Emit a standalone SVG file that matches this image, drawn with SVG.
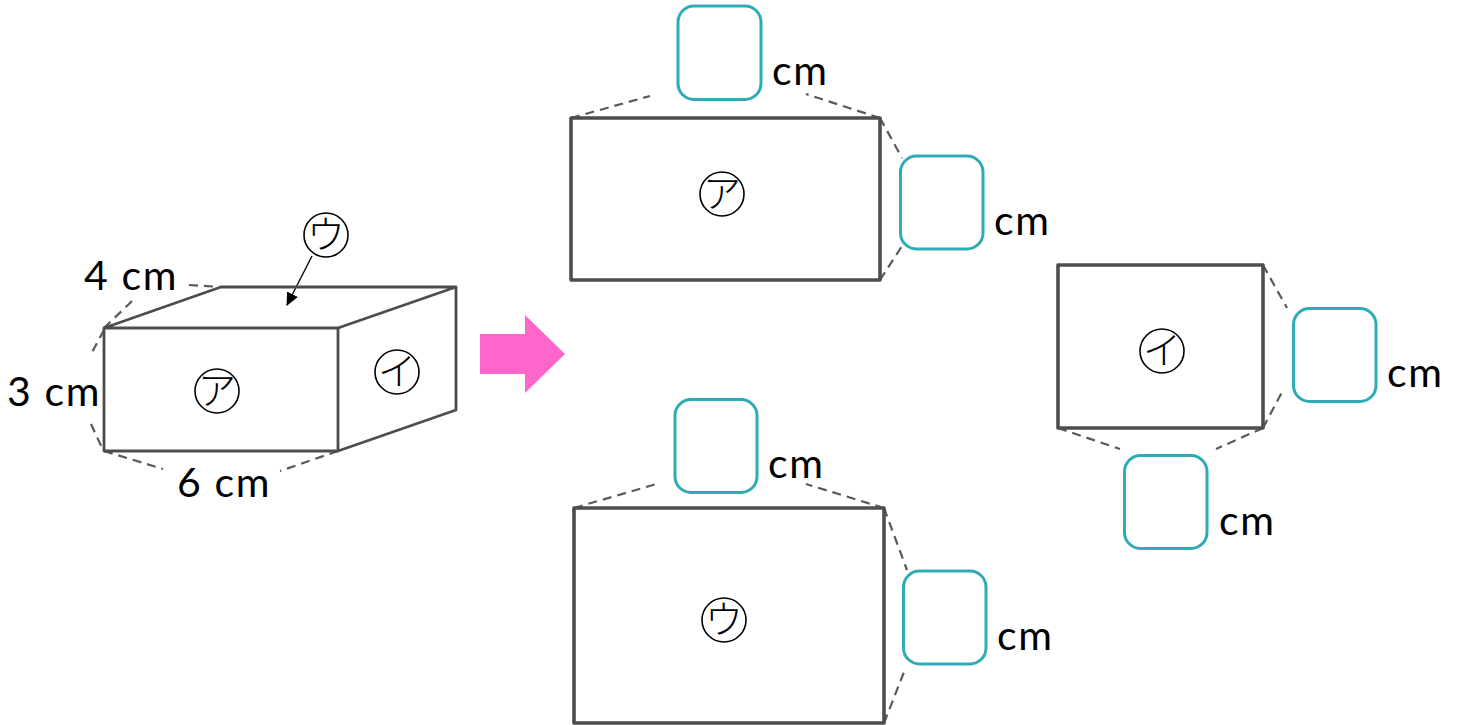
<svg xmlns="http://www.w3.org/2000/svg" width="1459" height="725" viewBox="0 0 1459 725">
<style>
.e{fill:none;stroke:#4d4d4d;stroke-width:3.6;stroke-linejoin:round;stroke-linecap:round}
.t{fill:none;stroke:#4d4d4d;stroke-width:2.8;stroke-linejoin:round}
.d{fill:none;stroke:#595959;stroke-width:2.2;stroke-dasharray:9 6}
.b{fill:#fff;stroke:#2eabb5;stroke-width:3}
.l{font-family:"Lato","Liberation Sans",sans-serif;font-size:41px;letter-spacing:1.6px;fill:#000}
.c{fill:#fff;stroke:#000;stroke-width:1.6}
.k{font-family:"Noto Sans CJK JP",sans-serif;font-size:38px;font-weight:300;fill:#000;text-anchor:middle}
</style>
<defs><marker id="a" markerWidth="14" markerHeight="14" refX="12" refY="6" orient="auto" markerUnits="userSpaceOnUse"><path d="M0 0L13 6L0 12z" fill="#000"/></marker></defs>
<g id="connectors">
<path class="d" d="M104 328L132 301M189 285L221 287M104 330L90 356M91 424L103 450M104 451L163 469M338 451L280 471"/>
<path class="d" d="M571 118L650 96M880 118L806 94M880 118L902 158M880 280L902 246"/>
<path class="d" d="M1263 265L1287 308M1263 428L1282 392M1058 428L1120 449M1263 428L1216 449"/>
<path class="d" d="M574 508L660 483M884 508L806 484M884 508L907 570M884 723L904 672"/>
<path fill="none" stroke="#000" stroke-width="1.4" marker-end="url(#a)" d="M312 256L287 305"/>
</g>
<g id="box">
<path class="t" d="M104 328H338V451H104ZM104 328L221 287H456V410L338 451M338 328L456 287"/>
<circle class="c" cx="217" cy="391" r="22"/><text class="k" x="217" y="404">ア</text>
<circle class="c" cx="397" cy="372" r="22"/><text class="k" x="397" y="385">イ</text>
<circle class="c" cx="326" cy="235" r="22"/><text class="k" x="326" y="248">ウ</text>
<text class="l" x="84" y="290">4 cm</text>
<text class="l" x="7" y="406">3 cm</text>
<text class="l" x="177" y="497">6 cm</text>
</g>
<path id="arrow" fill="#ff66cc" d="M480 334H525V315L565 354L525 393V374H480Z"/>
<g id="face-a">
<rect class="e" x="571" y="118" width="309" height="162"/>
<circle class="c" cx="722" cy="194" r="22"/><text class="k" x="722" y="207">ア</text>
<rect class="b" x="678" y="6" width="83" height="93.500" rx="16"/><text class="l" x="772" y="85">cm</text>
<rect class="b" x="900.500" y="156" width="82.500" height="93" rx="16"/><text class="l" x="994" y="235">cm</text>
</g>
<g id="face-i">
<rect class="e" x="1058" y="265" width="205" height="163"/>
<circle class="c" cx="1162" cy="351" r="22"/><text class="k" x="1162" y="364">イ</text>
<rect class="b" x="1293.500" y="308.500" width="82.500" height="93" rx="16"/><text class="l" x="1387" y="387">cm</text>
<rect class="b" x="1124.500" y="455.500" width="82.500" height="93" rx="16"/><text class="l" x="1219" y="535">cm</text>
</g>
<g id="face-u">
<rect class="e" x="574" y="508" width="310" height="215"/>
<circle class="c" cx="724" cy="620" r="22"/><text class="k" x="724" y="633">ウ</text>
<rect class="b" x="675" y="399.500" width="82" height="93" rx="16"/><text class="l" x="768" y="478">cm</text>
<rect class="b" x="903.500" y="571" width="82.500" height="93" rx="16"/><text class="l" x="997" y="650">cm</text>
</g>
</svg>
